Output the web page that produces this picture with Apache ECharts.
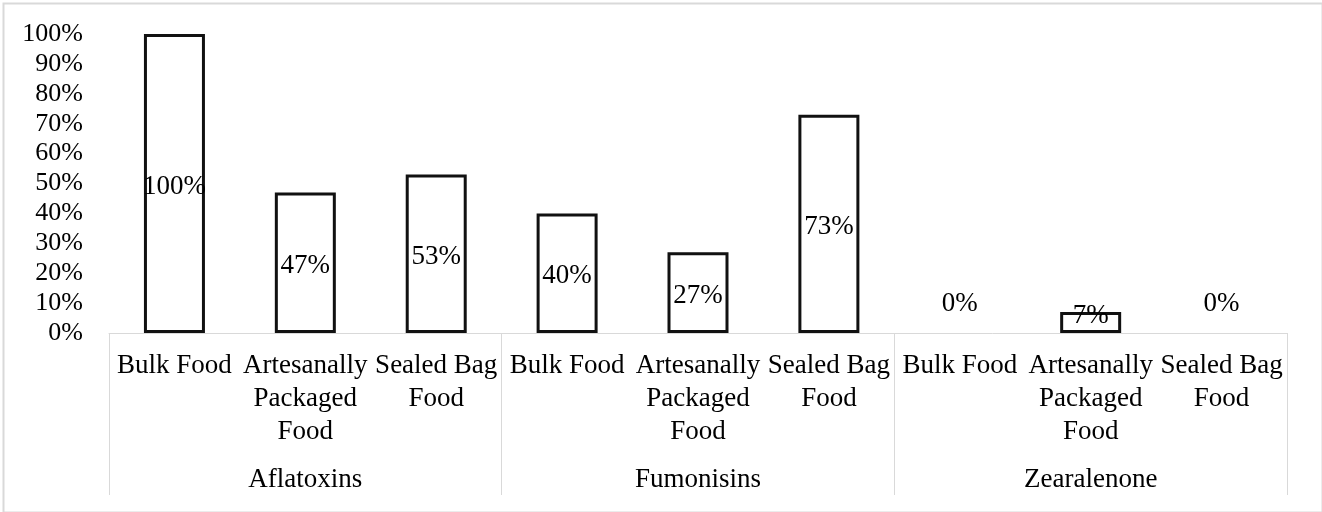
<!DOCTYPE html>
<html>
<head>
<meta charset="utf-8">
<script src="https://cdn.jsdelivr.net/npm/echarts@6/dist/echarts.min.js"></script>
<style>
html,body{margin:0;padding:0;background:#fff;}
#chart{width:1322px;height:512px;}
</style>
</head>
<body>
<div id="chart"></div>
<script>
const categories = ['Bulk Food', 'Artesanally\nPackaged\nFood', 'Sealed Bag\nFood',
                    'Bulk Food', 'Artesanally\nPackaged\nFood', 'Sealed Bag\nFood',
                    'Bulk Food', 'Artesanally\nPackaged\nFood', 'Sealed Bag\nFood'];
const groups = ['Aflatoxins', 'Fumonisins', 'Zearalenone'];
const values = [1.00, 0.47, 0.53, 0.40, 0.27, 0.73, 0, 0.07, 0];
const yTicks = [0, 0.1, 0.2, 0.3, 0.4, 0.5, 0.6, 0.7, 0.8, 0.9, 1.0];

const FONT = '"Liberation Serif", "Times New Roman", serif';
const pct = v => Math.round(v * 100) + '%';

const seriesData = values.map(v => {
  const item = { value: v };
  if (v === 0) {
    item.itemStyle = { borderWidth: 0 };
    item.label = { position: 'top', distance: 16, offset: [0, 0] };
  } else if (v < 0.1) {
    item.label = { position: 'inside', offset: [0, -7] };
  }
  return item;
});

const chart = echarts.init(document.getElementById('chart'));
chart.setOption({
  backgroundColor: '#fff',
  animation: false,
  graphic: [{
    type: 'rect', left: 1, top: 1, z: -1,
    shape: { width: 1319, height: 509 },
    style: { fill: 'none', stroke: '#d9d9d9', lineWidth: 2 }
  }],
  grid: { left: 109, right: 35, top: 34, bottom: 179, containLabel: false },
  xAxis: [{
    type: 'category',
    data: categories,
    position: 'bottom',
    axisLine: { show: true, lineStyle: { color: '#d9d9d9', width: 1 } },
    axisTick: { show: false },
    axisLabel: {
      interval: 0, margin: 16, fontFamily: FONT, fontSize: 27, color: '#000',
      lineHeight: 33, align: 'center'
    }
  }, {
    type: 'category',
    data: groups,
    position: 'bottom',
    axisLine: { show: false },
    axisTick: { show: true, length: 162, lineStyle: { color: '#d9d9d9', width: 1 } },
    axisLabel: { interval: 0, margin: 131, fontFamily: FONT, fontSize: 27, color: '#000', lineHeight: 32 }
  }],
  yAxis: {
    type: 'value',
    min: 0, max: 1, interval: 0.1,
    axisLine: { show: false },
    axisTick: { show: false },
    splitLine: { show: false },
    axisLabel: {
      margin: 26, fontFamily: FONT, fontSize: 26, color: '#000',
      formatter: v => yTicks.some(t => Math.abs(t - v) < 1e-9) ? pct(v) : ''
    }
  },
  series: [{
    type: 'bar',
    xAxisIndex: 0,
    data: seriesData,
    barWidth: '46.6%',
    itemStyle: { color: '#fff', borderColor: '#111', borderWidth: 3 },
    label: {
      show: true, position: 'inside', offset: [0, 3],
      fontFamily: FONT, fontSize: 27, color: '#000',
      formatter: p => pct(p.value)
    }
  }]
});
</script>
</body>
</html>
